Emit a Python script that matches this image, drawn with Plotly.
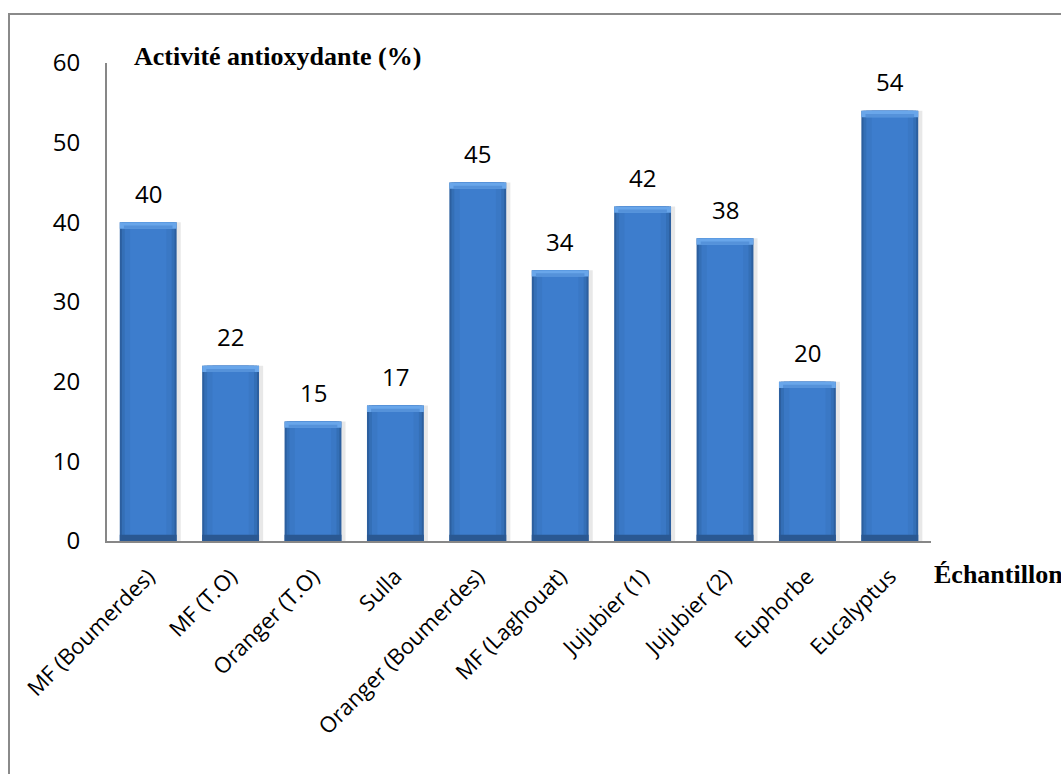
import plotly.graph_objects as go

# Antioxidant activity per sample
categories = [
    "MF (Boumerdes)", "MF (T.O)", "Oranger (T.O)", "Sulla",
    "Oranger (Boumerdes)", "MF (Laghouat)", "Jujubier (1)",
    "Jujubier (2)", "Euphorbe", "Eucalyptus",
]
activity = [40, 22, 15, 17, 45, 34, 42, 38, 20, 54]
y_ticks = [0, 10, 20, 30, 40, 50, 60]

W, H = 1061, 774
L, R, T, B = 107, 130, 63, 233
plot_w = W - L - R
plot_h = H - T - B

BAR_W = 0.69
BEVEL = 0.8  # height of the light/dark bevel strips, in data units

fig = go.Figure()

# soft drop shadow, shifted slightly to the right
fig.add_trace(go.Bar(
    x=categories, y=activity, width=BAR_W, offset=-BAR_W / 2 + 0.05,
    marker=dict(color="rgba(0,0,0,0.09)", line=dict(width=0)),
    hoverinfo="skip",
))

# bar body built from nested layers to give a rounded shading
layers = [
    (BAR_W, "#2c5f9f"),
    (BAR_W - 0.05, "#346fb6"),
    (BAR_W - 0.12, "#3a78c5"),
    (BAR_W - 0.25, "#3d7dcd"),
]
for w, c in layers:
    fig.add_trace(go.Bar(
        x=categories, y=activity, width=w,
        marker=dict(color=c, line=dict(width=0)),
        hoverinfo="skip",
    ))

# light bevel along the top of each bar
fig.add_trace(go.Bar(
    x=categories, y=[BEVEL] * len(activity),
    base=[v - BEVEL for v in activity], width=BAR_W,
    marker=dict(color="#69a6ea", line=dict(width=0)),
    hoverinfo="skip",
))
fig.add_trace(go.Bar(
    x=categories, y=[BEVEL / 2] * len(activity),
    base=[v - BEVEL for v in activity], width=BAR_W - 0.1,
    marker=dict(color="#5592da", line=dict(width=0)),
    hoverinfo="skip",
))

# darker bevel along the bottom
fig.add_trace(go.Bar(
    x=categories, y=[BEVEL] * len(activity), base=[0] * len(activity),
    width=BAR_W,
    marker=dict(color="#2a5892", line=dict(width=0)),
    hoverinfo="skip",
))

# value labels above the bars
for cat, v in zip(categories, activity):
    fig.add_annotation(
        x=cat, y=v, text=str(v), showarrow=False,
        xanchor="center", yanchor="middle", yshift=29,
        font=dict(family="Open Sans", size=24, color="#000000"),
    )

serif_bold = dict(family="Liberation Serif, Times New Roman, serif",
                  size=26, color="#000000")

fig.add_annotation(
    text="<b>Activité antioxydante (%)</b>",
    xref="paper", yref="paper",
    x=(132 - L) / plot_w, y=(H - B - 57) / plot_h,
    xanchor="left", yanchor="middle", showarrow=False,
    font=serif_bold,
)
fig.add_annotation(
    text="<b>Échantillons</b>",
    xref="paper", yref="paper",
    x=(932 - L) / plot_w, y=(H - B - 574) / plot_h,
    xanchor="left", yanchor="middle", showarrow=False,
    font=serif_bold,
)

# outer frame of the chart
fig.add_shape(
    type="rect", xref="paper", yref="paper",
    x0=(9 - L) / plot_w, x1=(W + 20 - L) / plot_w,
    y0=(H - B - (H + 20)) / plot_h, y1=(H - B - 14) / plot_h,
    line=dict(color="#8a8a8a", width=2), fillcolor="rgba(0,0,0,0)",
    layer="below",
)

fig.update_layout(
    width=W, height=H,
    margin=dict(l=L, r=R, t=T, b=B, autoexpand=False),
    paper_bgcolor="white", plot_bgcolor="white",
    barmode="overlay", showlegend=False,
    xaxis=dict(
        type="category", range=[-0.5, len(categories) - 0.5],
        tickangle=-45,
        tickfont=dict(family="Open Sans", size=22, color="#000000"),
        showline=True, linecolor="#878787", linewidth=2,
        showgrid=False, ticks="", zeroline=False,
        ticklabelstandoff=12,
    ),
    yaxis=dict(
        range=[0, 60], tickvals=y_ticks,
        tickfont=dict(family="Open Sans", size=24, color="#000000"),
        showline=True, linecolor="#878787", linewidth=2,
        showgrid=False, ticks="", zeroline=False,
        ticklabelstandoff=20,
    ),
)

fig.write_html("out.html")
